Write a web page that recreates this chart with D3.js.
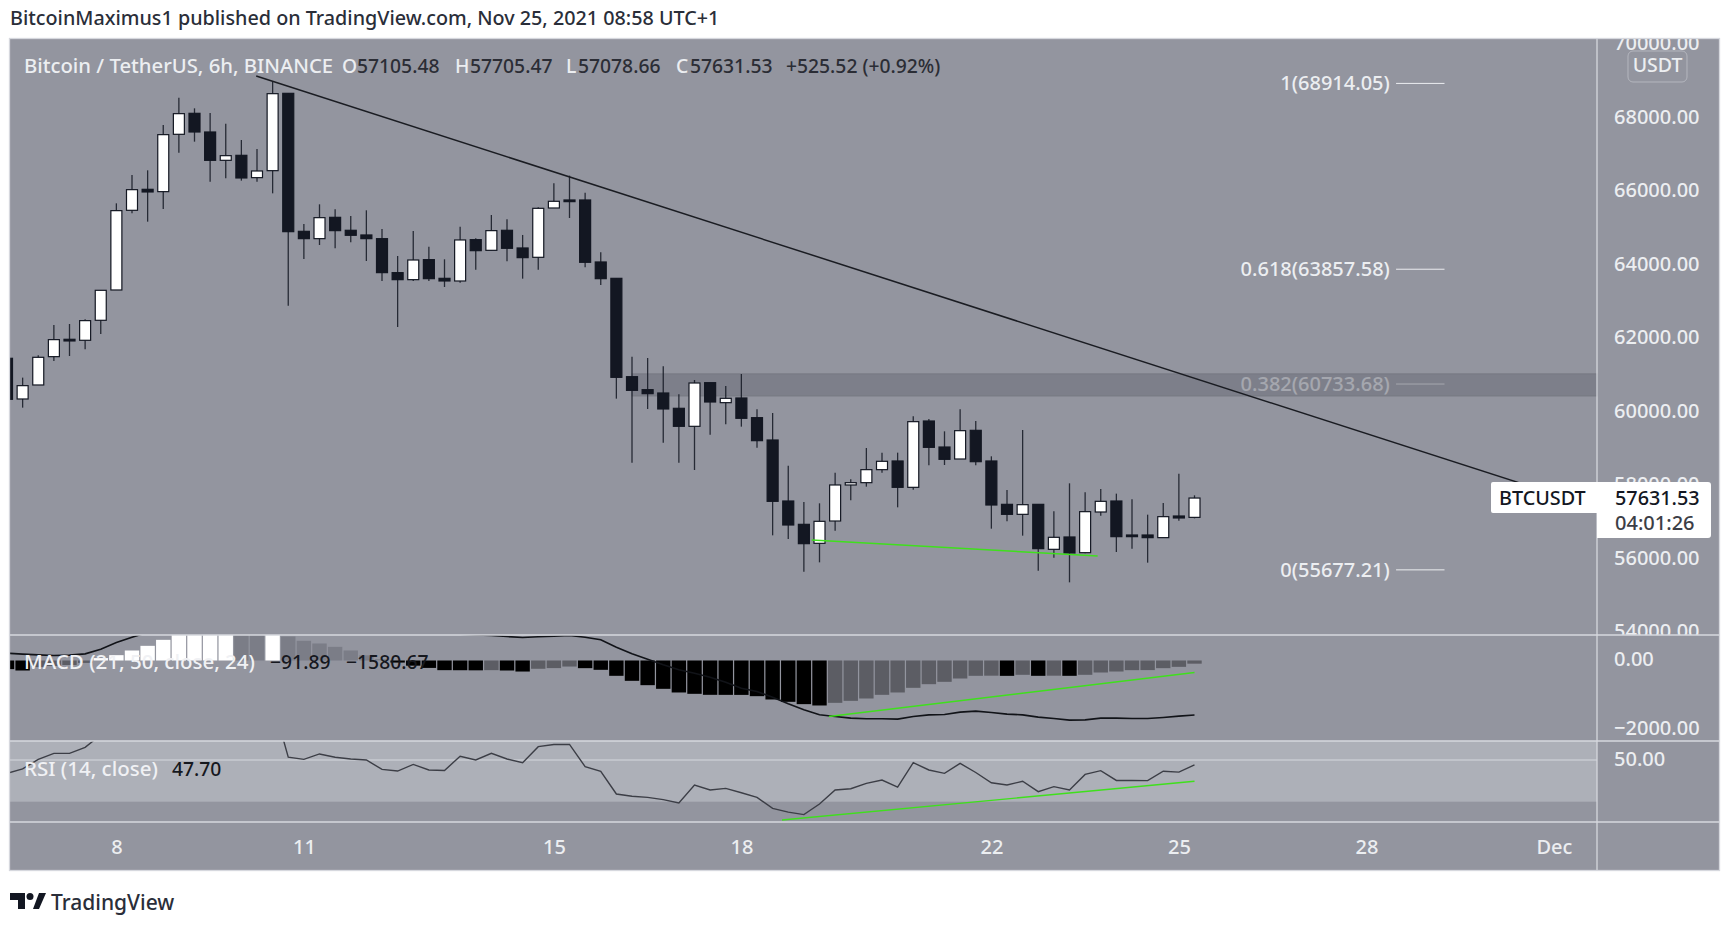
<!DOCTYPE html>
<html>
<head>
<meta charset="utf-8">
<script src="https://cdn.jsdelivr.net/npm/d3@7"></script>
<style>
  html, body { margin: 0; padding: 0; background: #fff; }
  text { font-family: "Noto Sans", sans-serif; }
</style>
</head>
<body>
<svg id="chart" width="1733" height="929"></svg>
<script>
// 6h candles
var opens = [61434,60327,60708,61479,61951,61924,62468,63293,65461,66032,65969,67529,68100,67592,66821,66957,66350,66540,68644,64889,64690,65270,64917,64790,64690,63765,63574,64119,63610,63538,64663,64372,64917,64436,64182,65524,65742,65742,64055,63610,60934,60581,60490,60073,59583,60771,60227,60354,59819,59211,57551,56916,56399,57007,57987,58050,58404,58640,57923,59728,59020,58694,59474,58640,57460,57188,57460,56236,56572,56145,57252,57551,56626,56626,56554,57143,57105.48];
var highs = [61434,60908,61515,62341,62368,62495,63284,65651,66422,66549,67783,68527,68236,68109,67819,67375,67130,68962,68644,65089,65624,65488,65307,65461,64953,64218,64899,64472,64128,65016,64699,65334,65216,64790,65543,66196,66404,65942,64318,63610,61479,61442,61215,60454,60844,60771,60680,61007,60045,59946,58513,57524,57488,58322,58141,58993,58866,58866,59855,59782,59447,60045,59728,58767,57851,59483,57460,57270,58032,57787,57878,57751,57596,57179,57497,58295,57705.47];
var lows = [60318,60091,60708,61361,61497,61679,62096,63293,65379,65152,65497,67030,67329,66241,66332,66268,66241,65923,62867,64137,64517,64427,64590,64082,63538,62286,63538,63538,63375,63493,63846,64372,64073,63601,63846,65524,65252,63910,63429,60336,58594,60055,59138,58594,58395,59356,59637,59574,59002,56617,56517,55628,55882,56744,57569,57941,58322,57379,57860,58522,58531,58694,58522,56798,56998,56608,55656,56009,55338,56127,57152,56163,56254,55873,56554,57016,57078.66];
var closes = [60318,60690,61461,61942,61906,62459,63284,65452,66023,65960,67520,68091,67592,66821,66948,66341,66531,68635,64880,64690,65261,64908,64781,64690,63765,63574,64109,63601,63538,64654,64363,64908,64427,64173,65515,65706,65697,64046,63601,60916,60562,60472,60055,59583,60762,60245,60345,59801,59193,57542,56898,56390,56998,57987,58050,58404,58631,57923,59710,59011,58685,59465,58621,57442,57188,57451,56254,56563,56136,57261,57542,56581,56581,56554,57125,57089,57631.53];

var macdHist = [-250,-290,-190,-160,-130,-70,70,155,290,425,599,800,900,960,990,950,880,900,695,570,493,396,290,150,40,-60,-150,-215,-280,-282,-285,-280,-290,-320,-240,-220,-175,-222,-270,-444,-589,-715,-821,-927,-966,-995,-996,-997,-1034,-1130,-1198,-1265,-1304,-1227,-1169,-1101,-995,-927,-792,-686,-618,-522,-444,-440,-445,-415,-444,-440,-444,-415,-348,-319,-280,-278,-222,-184,-91.89];
var macdLine = [212,184,164,145,155,193,328,522,676,811,950,1100,1250,1380,1480,1560,1600,1660,1640,1560,1480,1400,1300,1200,1100,1000,920,860,800,760,740,725,695,667,690,705,725,676,599,386,193,39,-126,-270,-367,-483,-628,-802,-898,-1063,-1256,-1430,-1575,-1623,-1671,-1690,-1690,-1700,-1623,-1575,-1565,-1497,-1468,-1507,-1555,-1575,-1642,-1681,-1729,-1720,-1671,-1671,-1681,-1681,-1652,-1613,-1580.67];
var rsiLine = [43.6,45.7,50.3,53.2,53.2,56.1,62,70,72,71,76,78,77,72,72,70,70,78,51.4,50.3,52.9,51.3,50.5,50,45.5,44.7,47.9,45.2,45,51.8,50,53.2,50.5,48.7,56.4,57.4,57.5,46.8,44.6,33.7,32.6,32.1,31,29.4,38,35.6,36.4,34.3,32.1,26.8,25,23.8,28.9,35.6,36.2,38.8,40.4,37,48.7,45.2,43.6,48.4,44,39.1,38,39.8,34.8,37.2,35.6,43.1,44.9,40.2,40.2,40.1,44.6,44.2,47.7];

var priceTicks = [70000,68000,66000,64000,62000,60000,58000,56000,54000];
var macdTicks = [0,-2000];
var rsiTicks = [50];
var dayIndex = [7,19,35,47,63,75,87,99];
var dayLabels = ["8","11","15","18","22","25","28","Dec"];

var fibLevels = ["1(68914.05)","0.618(63857.58)","0.382(60733.68)","0(55677.21)"];
var fibPrices = [68914.05,63857.58,60733.68,55677.21];
var zonePrices = [61010,60410];

// drawn lines: [candle index, value] pairs
var trendLine = [[15.95,69115],[100,57606]];
var greenPrice = [[51.5,56490],[69.8,56055]];
var greenMacd = [[52.6,-1623],[76,-348]];
var greenRsi = [[49.6,21.2],[76,39.8]];

var bg = "#93959f", border = "#d6d8de", dark = "#131722", lightText = "#eceef1";
var paneLeft = 10, paneRight = 1597, outerRight = 1719, paneTop = 39;
var mainBottom = 635, macdBottom = 741, rsiBottom = 822, outerBottom = 870;

var svg = d3.select("#chart");

var x = d3.scaleLinear().domain([0,76]).range([7,1194.5]);
var y = d3.scaleLinear().domain([68000,60000]).range([117,411]);
var yMacd = d3.scaleLinear().domain([0,-2000]).range([660.5,729.5]);
var yRsi = d3.scaleLinear().domain([50,30]).range([760,801.7]);

svg.append("rect").attr("x",paneLeft).attr("y",paneTop).attr("width",outerRight-paneLeft).attr("height",outerBottom-paneTop).attr("fill",bg);

var defs = svg.append("defs");
function addClip(id,x0,y0,x1,y1){
    defs.append("clipPath").attr("id",id).append("rect").attr("x",x0).attr("y",y0).attr("width",x1-x0).attr("height",y1-y0);
}
addClip("clipMain",paneLeft,paneTop,paneRight,mainBottom);
addClip("clipMacd",paneLeft,mainBottom,paneRight,macdBottom);
addClip("clipRsi",paneLeft,macdBottom,paneRight,rsiBottom);
addClip("axisMain",paneRight,paneTop,outerRight,mainBottom);

// fib levels
var fib = svg.append("g");
fibPrices.forEach(function(p,i){
    fib.append("line").attr("x1",x(88.9)).attr("x2",x(92)).attr("y1",y(p)).attr("y2",y(p)).attr("stroke",lightText).attr("stroke-width",1);
    fib.append("text").attr("x",x(88.5)).attr("y",y(p)).attr("dy","0.34em").attr("text-anchor","end")
        .attr("font-size",20).attr("font-weight",500).attr("fill",lightText).text(fibLevels[i]);
});

// resistance zone
svg.append("rect").attr("x",x(40)).attr("width",paneRight-x(40)).attr("y",y(zonePrices[0])).attr("height",y(zonePrices[1])-y(zonePrices[0]))
    .attr("fill","#6c6e78").attr("fill-opacity",0.55).attr("stroke","#777983").attr("stroke-width",1);

// candles
var main = svg.append("g").attr("clip-path","url(#clipMain)");
var bodyWidth = 11;
opens.forEach(function(o,i){
    var c = closes[i], up = c >= o;
    main.append("line").attr("x1",x(i)).attr("x2",x(i)).attr("y1",y(highs[i])).attr("y2",y(lows[i])).attr("stroke",dark).attr("stroke-opacity",0.85).attr("stroke-width",1.3);
    main.append("rect").attr("x",x(i)-bodyWidth/2).attr("width",bodyWidth)
        .attr("y",y(Math.max(o,c))).attr("height",Math.max(y(Math.min(o,c))-y(Math.max(o,c)),1.5))
        .attr("fill",up ? "#ffffff" : dark).attr("stroke",dark).attr("stroke-width",1.2);
});

function drawSegment(group,pts,scale,color,width){
    group.append("line").attr("x1",x(pts[0][0])).attr("y1",scale(pts[0][1])).attr("x2",x(pts[1][0])).attr("y2",scale(pts[1][1]))
        .attr("stroke",color).attr("stroke-width",width);
}
drawSegment(main,trendLine,y,"#1a1c22",1.5);
drawSegment(main,greenPrice,y,"#3fe01c",1.5);

// macd pane
var macd = svg.append("g").attr("clip-path","url(#clipMacd)");
macdHist.forEach(function(v,i){
    var prev = i > 0 ? macdHist[i-1] : v;
    var col = v >= 0 ? (v > prev ? "#ffffff" : "#7b7d87") : (v > prev ? "#5c5d64" : "#000000");
    macd.append("rect").attr("x",x(i)-7.2).attr("width",14.4)
        .attr("y",Math.min(yMacd(v),yMacd(0))).attr("height",Math.abs(yMacd(v)-yMacd(0))).attr("fill",col);
});
macd.append("path").datum(macdLine).attr("fill","none").attr("stroke","#111318").attr("stroke-width",1.6)
    .attr("d",d3.line().x(function(d,i){ return x(i); }).y(function(d){ return yMacd(d); }));
drawSegment(macd,greenMacd,yMacd,"#3fe01c",1.4);

// rsi pane
var rsi = svg.append("g").attr("clip-path","url(#clipRsi)");
rsi.append("rect").attr("x",paneLeft).attr("width",paneRight-paneLeft).attr("y",macdBottom).attr("height",yRsi(30)-macdBottom).attr("fill","#adb0b8");
rsi.append("line").attr("x1",paneLeft).attr("x2",paneRight).attr("y1",yRsi(50)).attr("y2",yRsi(50)).attr("stroke",border).attr("stroke-width",1.2);
rsi.append("path").datum(rsiLine).attr("fill","none").attr("stroke","#3c3e46").attr("stroke-width",1.4)
    .attr("d",d3.line().x(function(d,i){ return x(i); }).y(function(d){ return yRsi(d); }));
drawSegment(rsi,greenRsi,yRsi,"#3fe01c",1.4);

// axes
function styleAxis(g){
    g.select(".domain").remove();
    g.selectAll(".tick line").remove();
    g.selectAll("text").attr("font-size",20).attr("font-weight",500).attr("font-family","Noto Sans, sans-serif").attr("fill",lightText);
}
var axisX = 1614;
svg.append("g").attr("clip-path","url(#axisMain)").append("g").attr("transform","translate("+axisX+",0)")
    .call(d3.axisRight(y).tickValues(priceTicks).tickSize(0).tickPadding(0).tickFormat(d3.format(".2f"))).call(styleAxis);
svg.append("g").attr("transform","translate("+axisX+",-1)")
    .call(d3.axisRight(yMacd).tickValues(macdTicks).tickSize(0).tickPadding(0).tickFormat(d3.format(".2f"))).call(styleAxis);
svg.append("g").attr("transform","translate("+axisX+",-1)")
    .call(d3.axisRight(yRsi).tickValues(rsiTicks).tickSize(0).tickPadding(0).tickFormat(d3.format(".2f"))).call(styleAxis);
svg.append("g").attr("transform","translate(0,"+(rsiBottom+18)+")")
    .call(d3.axisBottom(x).tickValues(dayIndex).tickSize(0).tickPadding(0).tickFormat(function(d,i){ return dayLabels[i]; })).call(styleAxis);

// pane borders
var frameLines = svg.append("g").attr("stroke",border).attr("stroke-width",1.3);
[mainBottom,macdBottom,rsiBottom].forEach(function(v){
    frameLines.append("line").attr("x1",paneLeft).attr("x2",outerRight).attr("y1",v).attr("y2",v);
});
frameLines.append("line").attr("x1",paneRight).attr("x2",paneRight).attr("y1",paneTop).attr("y2",outerBottom);
frameLines.append("rect").attr("x",paneLeft-0.5).attr("y",paneTop-0.5).attr("width",outerRight-paneLeft+1).attr("height",outerBottom-paneTop+1).attr("fill","none");

// USDT badge
svg.append("rect").attr("x",1628).attr("y",51).attr("width",59).attr("height",31).attr("rx",5).attr("fill",bg).attr("stroke","#b4b6be").attr("stroke-width",1);
svg.append("text").attr("x",1657.5).attr("y",65.5).attr("dy","0.35em").attr("text-anchor","middle").attr("font-size",19.5).attr("font-weight",500).attr("fill",lightText).text("USDT");

// last price label
svg.append("path").attr("d","M1493,482 H1708 a3,3 0 0 1 3,3 V535 a3,3 0 0 1 -3,3 H1597 V513 H1493 a2,2 0 0 1 -2,-2 V484 a2,2 0 0 1 2,-2 Z").attr("fill","#ffffff");

// legends
function label(xp,yp,txt,color,size){
    return svg.append("text").attr("x",xp).attr("y",yp).attr("dy","0.35em").attr("font-size",size || 19.3).attr("font-weight",500).attr("fill",color).text(txt);
}
label(1499,498,"BTCUSDT","#131722",19.8);
label(1615,498,"57631.53","#131722",19.8);
label(1615,523,"04:01:26","#3c3e46",20);

var legendDark = "#2b2d35";
label(24,66,"Bitcoin / TetherUS, 6h, BINANCE",lightText,20.3);
label(342,66,"O",lightText); label(357,66,"57105.48",legendDark);
label(455,66,"H",lightText); label(470,66,"57705.47",legendDark);
label(566,66,"L",lightText); label(578,66,"57078.66",legendDark);
label(676,66,"C",lightText); label(690,66,"57631.53",legendDark);
label(786,66,"+525.52 (+0.92%)",legendDark);
label(24,662,"MACD (21, 50, close, 24)","#f0f1f4",20.5);
label(270,662,"\u221291.89","#16181e");
label(346,662,"\u22121580.67","#16181e");
label(24,769,"RSI (14, close)","#f0f1f4",20.5);
label(172,769,"47.70","#16181e");

// header and footer
label(10,18,"BitcoinMaximus1 published on TradingView.com, Nov 25, 2021 08:58 UTC+1","#2a2e39",19.75);
svg.append("path").attr("d","M10,893 H25 V909 H18 V900 H10 Z M33,909 L39,893 H46 L39,909 Z").attr("fill","#131722");
svg.append("circle").attr("cx",30).attr("cy",896.5).attr("r",3.5).attr("fill","#131722");
label(51,903,"TradingView","#2a2e39",21);
</script>
</body>
</html>
